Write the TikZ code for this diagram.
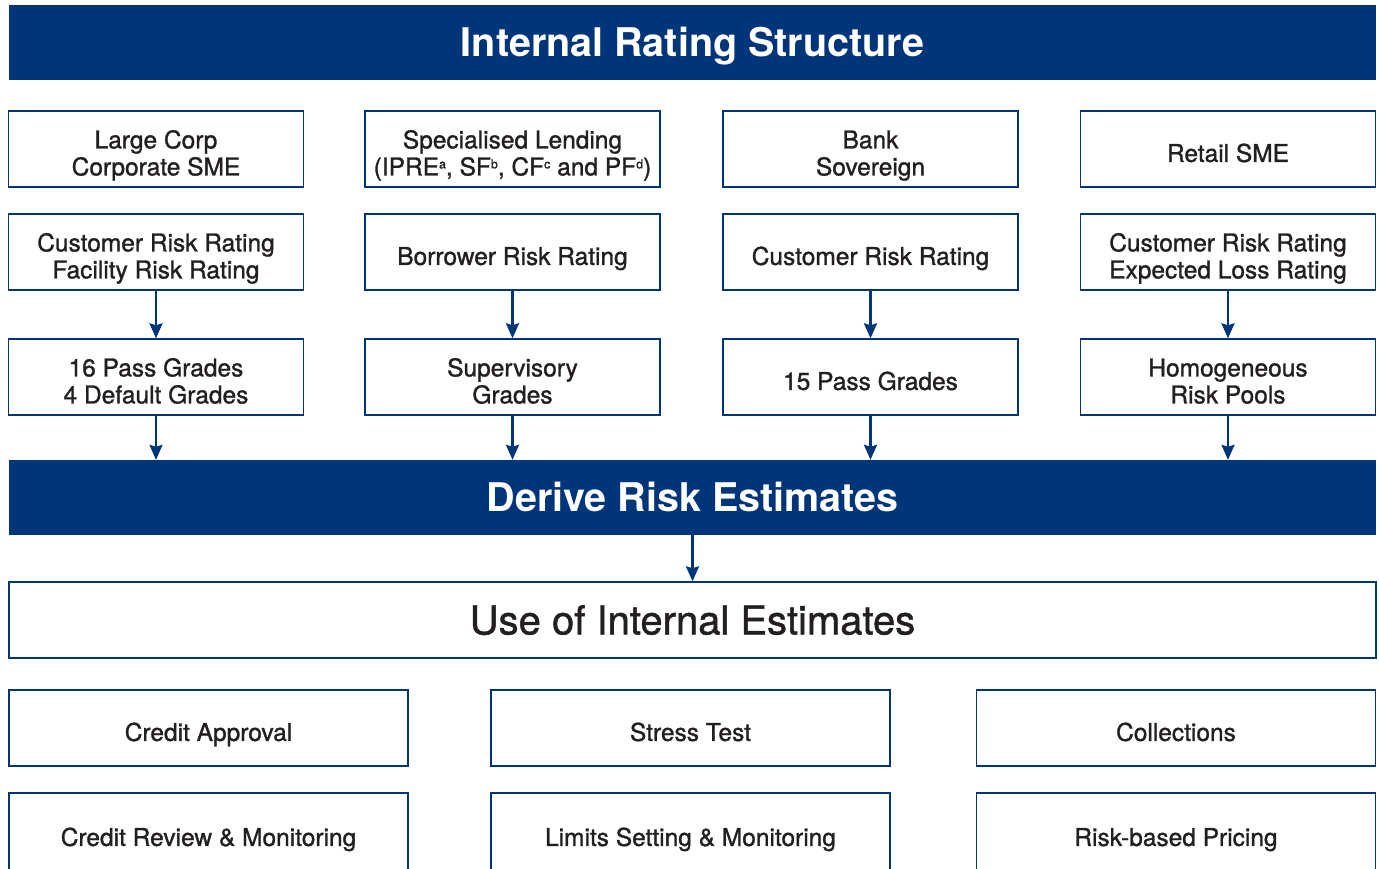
\documentclass[tikz,border=0pt]{standalone}
\usepackage{fontspec}
\setmainfont{TeX Gyre Heros}
\newfontfamily\mediumfont[FakeBold=1.2]{TeX Gyre Heros}
\usetikzlibrary{arrows.meta}

\definecolor{ratingblue}{RGB}{0,53,122}
\definecolor{ratingtext}{RGB}{35,31,32}

% box text, set a little below the middle as in the chart
\newcommand{\boxlines}[1]{\raisebox{-7.5pt}[\height][\depth]{\begin{tabular}{@{}c@{}}#1\end{tabular}}}
\newcommand{\notemark}[1]{\raisebox{7pt}{\fontsize{12.5}{13}\selectfont #1}}

\tikzset{
	bar/.style={fill=ratingblue, text=white, minimum width=1367pt, minimum height=75pt,
		font=\fontsize{39.5}{44}\selectfont\bfseries, inner sep=0pt, text height=28.4pt, text depth=0pt},
	grade/.style={draw=ratingblue, line width=1.4pt, fill=white, text=ratingtext,
		minimum width=295pt, minimum height=76pt, inner sep=0pt,
		font=\fontsize{24.5}{27}\mediumfont},
	usebox/.style={grade, minimum width=399pt},
	link/.style={draw=ratingblue, line width=2.6pt, -{Stealth[length=15pt,width=13pt,inset=2pt]}}
}

\begin{document}
\begin{tikzpicture}[x=1pt, y=-1pt]
		\useasboundingbox (0,0) rectangle (1379,868);
		% Banners
		\node[bar] (rating) at (692.5, 42.5) {Internal Rating Structure};
		\node[bar] (derive) at (692.5, 497.5) {Derive Risk Estimates};
		% Portfolios
		\node[grade] (corp) at (156, 149) {\boxlines{Large Corp\\Corporate SME}};
		\node[grade] (spec) at (512.5, 149) {\boxlines{Specialised Lending\\(IPRE\notemark{a}, SF\notemark{b}, CF\notemark{c} and PF\notemark{d})}};
		\node[grade] (bank) at (870.5, 149) {\boxlines{Bank\\Sovereign}};
		\node[grade] (retail) at (1228, 149) {\boxlines{Retail SME}};
		% Rating systems
		\node[grade] (corprate) at (156, 252) {\boxlines{Customer Risk Rating\\Facility Risk Rating}};
		\node[grade] (specrate) at (512.5, 252) {\boxlines{Borrower Risk Rating}};
		\node[grade] (bankrate) at (870.5, 252) {\boxlines{Customer Risk Rating}};
		\node[grade] (retailrate) at (1228, 252) {\boxlines{Customer Risk Rating\\Expected Loss Rating}};
		% Grades
		\node[grade] (corpgrade) at (156, 377) {\boxlines{16 Pass Grades\\4 Default Grades}};
		\node[grade] (specgrade) at (512.5, 377) {\boxlines{Supervisory\\Grades}};
		\node[grade] (bankgrade) at (870.5, 377) {\boxlines{15 Pass Grades}};
		\node[grade] (retailgrade) at (1228, 377) {\boxlines{Homogeneous\\Risk Pools}};
		% Uses
		\node[grade, minimum width=1367pt, font=\fontsize{40}{44}\mediumfont,
			text height=28.8pt, text depth=0pt] (uses) at (692.5, 620) {Use of Internal Estimates};
		\node[usebox] (approval) at (208.5, 728) {\boxlines{Credit Approval}};
		\node[usebox] (stress) at (690.5, 728) {\boxlines{Stress Test}};
		\node[usebox] (collect) at (1176, 728) {\boxlines{Collections}};
		\node[usebox, minimum height=80pt] (review) at (208.5, 833) {\boxlines{Credit Review \& Monitoring}};
		\node[usebox, minimum height=80pt] (limits) at (690.5, 833) {\boxlines{Limits Setting \& Monitoring}};
		\node[usebox, minimum height=80pt] (pricing) at (1176, 833) {\boxlines{Risk-based Pricing}};
		% Arrows
		\draw[link] (corprate) -- (corpgrade);
		\draw[link] (specrate) -- (specgrade);
		\draw[link] (bankrate) -- (bankgrade);
		\draw[link] (retailrate) -- (retailgrade);
		\draw[link] (corpgrade.south) -- (corpgrade.south |- derive.north);
		\draw[link] (specgrade.south) -- (specgrade.south |- derive.north);
		\draw[link] (bankgrade.south) -- (bankgrade.south |- derive.north);
		\draw[link] (retailgrade.south) -- (retailgrade.south |- derive.north);
		\draw[link] (derive) -- (uses);
	\end{tikzpicture}
\end{document}
